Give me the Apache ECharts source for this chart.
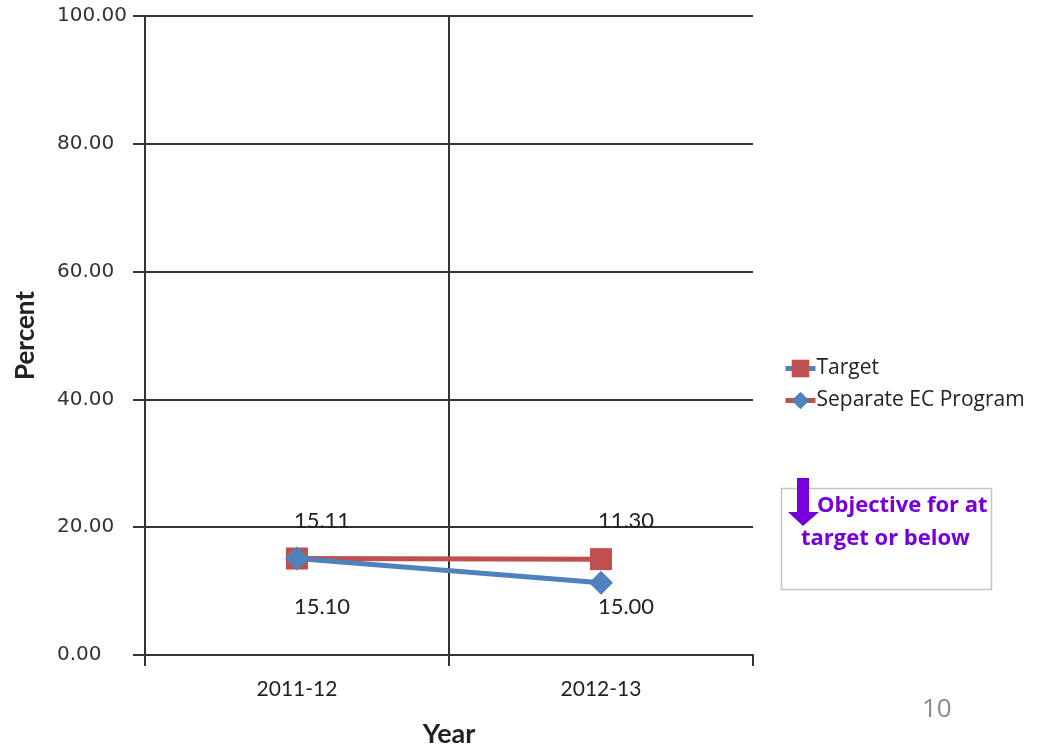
<!DOCTYPE html>
<html>
<head>
<meta charset="utf-8">
<script src="https://cdn.jsdelivr.net/npm/echarts@6/dist/echarts.min.js"></script>
<style>
  html, body { margin: 0; padding: 0; background: #fff; }
  #chart { width: 1048px; height: 747px; }
</style>
</head>
<body>
<div id="chart"></div>
<script>
// data
const years = ['2011-12', '2012-13']
const target = [15.10, 15.00]
const separateEC = [15.11, 11.30]
const yTicks = [0, 20, 40, 60, 80, 100]

const red = '#c0504d'
const blue = '#4f81bd'
const purple = '#7600dc'
const axisColor = '#333'

const chart = echarts.init(document.getElementById('chart'))

const labelFont = { fontFamily: 'Lato', fontSize: 22, color: '#222' }

const option = {
  animation: false,
  grid: { left: 145, right: 295, top: 16, bottom: 92, outerBoundsMode: 'none' },
  legend: {
    orient: 'vertical',
    left: 783,
    top: 358,
    padding: 0,
    itemWidth: 30,
    itemHeight: 22,
    itemGap: 11,
    textStyle: { fontFamily: 'Open Sans', fontSize: 21, color: '#222', padding: [0, 0, 0, -4] },
    // Excel swapped the line colours in the legend keys
    data: [
      { name: 'Target', itemStyle: { color: red }, lineStyle: { color: blue, width: 5 } },
      { name: 'Separate EC Program', itemStyle: { color: blue }, lineStyle: { color: red, width: 5 } }
    ]
  },
  xAxis: {
    type: 'category',
    data: years,
    boundaryGap: true,
    name: 'Year',
    nameLocation: 'middle',
    nameGap: 66,
    nameTextStyle: { fontFamily: 'Lato', fontSize: 27, fontWeight: 'bold', color: '#222' },
    axisLine: { lineStyle: { color: axisColor, width: 2 } },
    axisTick: { show: true, length: 11, lineStyle: { color: axisColor, width: 2 } },
    axisLabel: { fontFamily: 'Lato', fontSize: 21, color: '#222', margin: 24 },
    splitLine: { show: true, showMinLine: false, showMaxLine: false, lineStyle: { color: axisColor, width: 2 } }
  },
  yAxis: {
    type: 'value',
    min: yTicks[0],
    max: yTicks[yTicks.length - 1],
    interval: yTicks[1] - yTicks[0],
    name: 'Percent',
    nameLocation: 'middle',
    nameRotate: 90,
    nameGap: 106,
    nameTextStyle: { fontFamily: 'Lato', fontSize: 26, fontWeight: 'bold', color: '#222' },
    axisLine: { show: true, lineStyle: { color: axisColor, width: 2 } },
    axisTick: { show: true, length: 12, lineStyle: { color: axisColor, width: 2 } },
    axisLabel: {
      fontFamily: 'DejaVu Sans',
      fontSize: 20,
      color: '#333',
      margin: 88,
      align: 'left',
      formatter: v => v.toFixed(2)
    },
    splitLine: { show: true, lineStyle: { color: axisColor, width: 2 } }
  },
  series: [
    {
      name: 'Target',
      type: 'line',
      data: target,
      symbol: 'rect',
      symbolSize: 22,
      z: 2,
      lineStyle: { color: red, width: 5 },
      itemStyle: { color: red },
      label: {
        show: true,
        position: 'top',
        distance: 16,
        offset: [25, 0],
        ...labelFont,
        // labels above the squares carry the other series' values, as in the original
        formatter: p => separateEC[p.dataIndex].toFixed(2)
      }
    },
    {
      name: 'Separate EC Program',
      type: 'line',
      data: separateEC,
      symbol: 'diamond',
      symbolSize: 24,
      z: 3,
      lineStyle: { color: blue, width: 5 },
      itemStyle: { color: blue }
    },
    {
      // transparent copy of the target points, only carries the labels printed below them
      name: 'belowLabels',
      type: 'line',
      data: target,
      symbol: 'rect',
      symbolSize: 22,
      silent: true,
      z: 1,
      lineStyle: { width: 0, color: 'rgba(0,0,0,0)' },
      itemStyle: { color: 'rgba(0,0,0,0)' },
      label: {
        show: true,
        position: 'bottom',
        distance: 26,
        offset: [25, 0],
        ...labelFont,
        formatter: p => target[p.dataIndex].toFixed(2)
      }
    }
  ],
  graphic: [
    {
      type: 'rect',
      shape: { x: 781.5, y: 488.5, width: 210, height: 101 },
      style: { fill: '#fff', stroke: '#c4c4c4', lineWidth: 1.5 }
    },
    {
      type: 'polygon',
      shape: {
        points: [[797, 478], [809, 478], [809, 512], [819, 512], [803, 526], [788, 512], [797, 512]]
      },
      style: { fill: purple }
    },
    {
      type: 'text',
      left: 817,
      top: 495,
      style: { text: 'Objective for at', fontFamily: 'Open Sans', fontSize: 22, fontWeight: 'bold', fill: purple }
    },
    {
      type: 'text',
      left: 801,
      top: 528,
      style: { text: 'target or below', fontFamily: 'Open Sans', fontSize: 22, fontWeight: 'bold', fill: purple }
    },
    {
      type: 'text',
      left: 922,
      top: 697,
      style: { text: '10', fontFamily: 'Open Sans', fontSize: 26, fill: '#8a8a8a' }
    }
  ]
}

chart.setOption(option)
</script>
</body>
</html>
